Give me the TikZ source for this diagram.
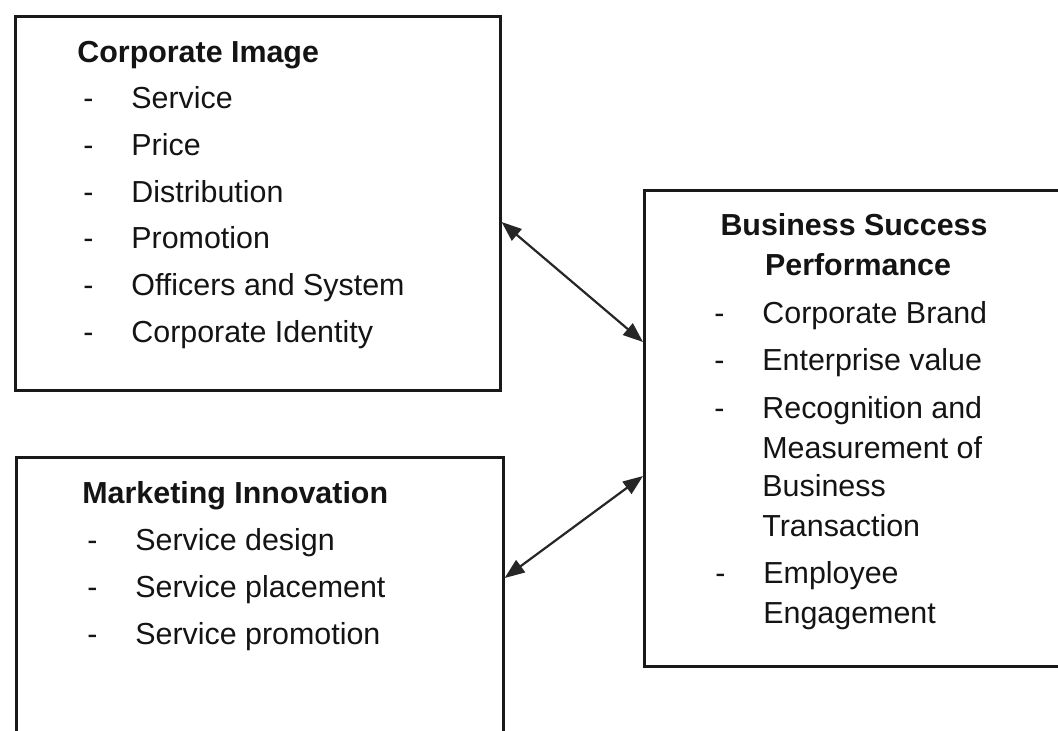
\documentclass[tikz,border=0pt]{standalone}
\usepackage{fontspec}
\setmainfont{Liberation Sans}
\usetikzlibrary{arrows.meta}
\begin{document}
\begin{tikzpicture}[x=0.5pt,y=-0.5pt,
  box/.style={draw=black!90, line width=1.3pt, inner sep=0pt, anchor=north west},
  txt/.style={anchor=base west, inner sep=0pt, text=black!92, font=\fontsize{15.2}{18}\selectfont},
  head/.style={txt, font=\fontsize{15.2}{18}\selectfont\bfseries},
  headc/.style={head, anchor=base},
  link/.style={draw=black!85, line width=1.1pt,
    {Triangle[length=10pt,width=7.5pt]}-{Triangle[length=10pt,width=7.5pt]}}]
% one bulleted line: name, x of the dash, baseline, text
\newcommand\bulletline[4]{%
  \node[txt] (#1d) at (#2,#3) {-};
  \node[txt] (#1) at (#2+48,#3) {#4};}
% plain continuation line: name, x, baseline, text
\newcommand\plainline[4]{\node[txt] (#1) at (#2,#3) {#4};}

\clip (0,0) rectangle (1058,731);
\fill[white] (0,0) rectangle (1058,731);

% frames
\node[box, minimum width=242.5pt, minimum height=187pt] (ci) at (14,15) {};
\node[box, minimum width=243.5pt, minimum height=152pt] (mi) at (15,456) {};
\node[box, minimum width=213.5pt, minimum height=238pt] (bs) at (643,189) {};

% Corporate Image
\node[head] (cih) at (77,63) {Corporate Image};
\bulletline{ci1}{83}{109}{Service}
\bulletline{ci2}{83}{156}{Price}
\bulletline{ci3}{83}{203}{Distribution}
\bulletline{ci4}{83}{249}{Promotion}
\bulletline{ci5}{83}{296}{Officers and System}
\bulletline{ci6}{83}{343}{Corporate Identity}

% Marketing Innovation
\node[head] (mih) at (82,503) {Marketing Innovation};
\bulletline{mi1}{87}{550}{Service design}
\bulletline{mi2}{87}{597}{Service placement}
\bulletline{mi3}{87}{644}{Service promotion}

% Business Success Performance
\node[headc] (bsh1) at (854,236) {Business Success};
\node[headc] (bsh2) at (858,276) {Performance};
\bulletline{bs1}{714}{324}{Corporate Brand}
\bulletline{bs2}{714}{371}{Enterprise value}
\bulletline{bs3}{714}{418}{Recognition and}
\plainline{bs3b}{762}{458}{Measurement of}
\plainline{bs3c}{762}{496}{Business}
\plainline{bs3d}{762}{536}{Transaction}
\bulletline{bs4}{715}{583}{Employee}
\plainline{bs4b}{763}{623}{Engagement}

% two-way links
\coordinate (l1a) at (0,222);
\coordinate (l1b) at (0,342);
\coordinate (l2a) at (0,578);
\coordinate (l2b) at (0,476);
\draw[link] (ci.east |- l1a) -- (bs.west |- l1b);
\draw[link] (mi.east |- l2a) -- (bs.west |- l2b);
\end{tikzpicture}
\end{document}
